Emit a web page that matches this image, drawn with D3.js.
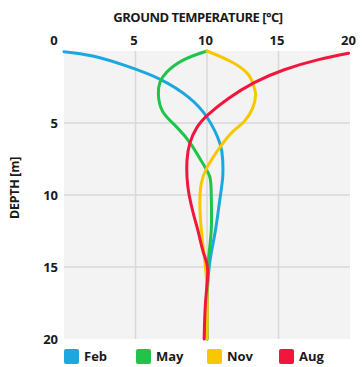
<!DOCTYPE html>
<html>
<head>
<meta charset="utf-8">
<script src="https://cdn.jsdelivr.net/npm/d3@7"></script>
<style>
  body { margin: 0; background: #fff; }
  text { font-family: "Open Sans", sans-serif; font-weight: bold; fill: #1a1a1a; }
</style>
</head>
<body>
<svg id="chart" width="362" height="367"></svg>
<script>
// ground temperature [°C] vs depth [m]
var months = ["Feb", "May", "Nov", "Aug"];
var colors = ["#1ba8e0", "#20c44a", "#f7c800", "#f0163c"];

var febTemp  = [0.0, 2.0, 4.4, 6.8, 8.7, 10.0, 10.9, 11.1, 11.1, 10.9, 10.6, 10.3, 10.1, 10.0, 10.0];
var febDepth = [0.05, 0.35, 1.05, 2.0, 3.2, 4.6, 6.4, 7.6, 8.75, 10.3, 12.4, 14.0, 15.5, 17.5, 20.0];

var mayTemp  = [10.0, 8.4, 7.2, 6.7, 6.6, 6.9, 7.9, 8.9, 9.7, 10.2, 10.3, 10.3, 10.1, 10.0, 10.0];
var mayDepth = [0.0, 0.6, 1.45, 2.2, 3.0, 4.2, 5.3, 6.5, 7.8, 8.75, 10.1, 12.4, 14.5, 17.0, 20.0];

var novTemp  = [10.0, 11.7, 12.9, 13.3, 13.4, 13.2, 12.6, 11.8, 10.9, 10.0, 9.6, 9.5, 9.6, 9.8, 10.0, 10.0];
var novDepth = [0.0, 0.75, 1.65, 2.55, 3.05, 3.95, 4.9, 5.6, 6.7, 8.1, 9.2, 10.6, 12.4, 14.2, 16.5, 20.0];

var augTemp  = [19.9, 17.8, 15.4, 13.3, 11.5, 10.1, 9.3, 8.8, 8.6, 8.6, 8.75, 9.1, 9.4, 9.75, 10.05, 9.9, 9.8];
var augDepth = [0.15, 0.6, 1.3, 2.2, 3.3, 4.4, 5.3, 6.4, 7.6, 8.75, 10.0, 11.5, 12.6, 14.0, 15.2, 17.4, 20.0];

var xTicks = [5, 10, 15, 20];
var yTicks = [5, 10, 15, 20];
var gridTicks = [5, 10, 15];

var series = [
  { name: "Feb", t: febTemp, d: febDepth },
  { name: "May", t: mayTemp, d: mayDepth },
  { name: "Nov", t: novTemp, d: novDepth },
  { name: "Aug", t: augTemp, d: augDepth }
];

var svg = d3.select("#chart"),
  margin = { top: 51, right: 12, bottom: 28, left: 64 },
  width = 362 - margin.left - margin.right,
  height = 367 - margin.top - margin.bottom;

var x = d3.scaleLinear().domain([0, 20]).range([margin.left, margin.left + width]);
var y = d3.scaleLinear().domain([0, 20]).range([margin.top, margin.top + height]);

// plot background
svg.append("rect")
  .attr("x", x(0)).attr("y", y(0))
  .attr("width", x(20) - x(0)).attr("height", y(20) - y(0))
  .attr("fill", "#f3f3f3");

// grid
svg.append("g").selectAll("line").data(gridTicks).join("line")
  .attr("x1", d => x(d)).attr("x2", d => x(d))
  .attr("y1", y(0)).attr("y2", y(20))
  .attr("stroke", "#d8d8d8").attr("stroke-width", 1.5);
svg.append("g").selectAll("line").data(gridTicks).join("line")
  .attr("y1", d => y(d)).attr("y2", d => y(d))
  .attr("x1", x(0)).attr("x2", x(20))
  .attr("stroke", "#d8d8d8").attr("stroke-width", 1.5);

// axes (labels only)
var xAxis = svg.append("g")
  .attr("transform", "translate(0," + (y(0) - 2) + ")")
  .call(d3.axisTop(x).tickValues(xTicks).tickSize(0).tickPadding(4));
xAxis.select(".domain").remove();
xAxis.selectAll("text").style("font-size", "13px").attr("dx", "-2px");

var yAxis = svg.append("g")
  .attr("transform", "translate(" + (x(0) - 6) + ",0)")
  .call(d3.axisLeft(y).tickValues(yTicks).tickSize(0).tickPadding(0));
yAxis.select(".domain").remove();
yAxis.selectAll("text").style("font-size", "13px");

// corner zero
svg.append("text")
  .attr("x", x(0) - 10).attr("y", y(0) - 6)
  .attr("text-anchor", "middle")
  .style("font-size", "13px")
  .text("0");

// titles
svg.append("text")
  .attr("x", 198).attr("y", 22)
  .attr("text-anchor", "middle")
  .style("font-size", "13px")
  .style("letter-spacing", "-0.5px")
  .text("GROUND TEMPERATURE [°C]");

svg.append("text")
  .attr("transform", "translate(19,188) rotate(-90)")
  .attr("text-anchor", "middle")
  .style("font-size", "12.5px")
  .style("letter-spacing", "-0.3px")
  .text("DEPTH [m]");

// curves
var line = d3.line()
  .x(d => x(d[0]))
  .y(d => y(d[1]))
  .curve(d3.curveNatural);

series.forEach(function (s, i) {
  var pts = s.t.map((t, j) => [t, s.d[j]]);
  svg.append("path")
    .attr("d", line(pts))
    .attr("fill", "none")
    .attr("stroke", colors[i])
    .attr("stroke-width", 3)
    .attr("stroke-linecap", "round");
});

// legend
var legX = [64, 136, 207, 279];
var leg = svg.append("g");
months.forEach(function (m, i) {
  leg.append("rect")
    .attr("x", legX[i]).attr("y", 349)
    .attr("width", 15).attr("height", 15)
    .attr("rx", 2)
    .attr("fill", colors[i]);
  leg.append("text")
    .attr("x", legX[i] + 20).attr("y", 361)
    .style("font-size", "13px")
    .text(m);
});
</script>
</body>
</html>
